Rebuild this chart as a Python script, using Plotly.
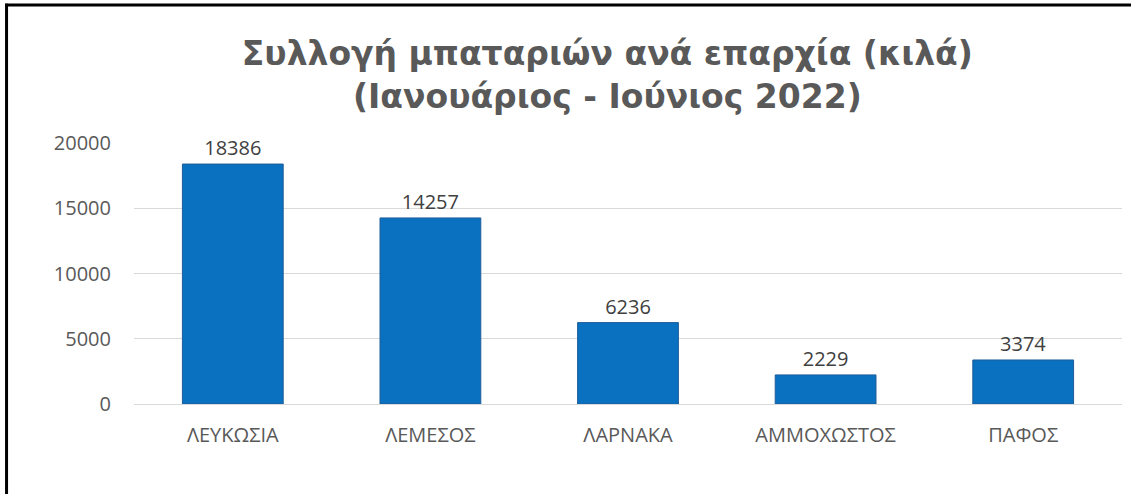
import plotly.graph_objects as go

categories = ["ΛΕΥΚΩΣΙΑ", "ΛΕΜΕΣΟΣ", "ΛΑΡΝΑΚΑ", "ΑΜΜΟΧΩΣΤΟΣ", "ΠΑΦΟΣ"]
values = [18386, 14257, 6236, 2229, 3374]
tick_values = [0, 5000, 10000, 15000, 20000]
tick_labels = ["0", "5000", "10000", "15000", "20000"]
title_text = "Συλλογή μπαταριών ανά επαρχία (κιλά)<br>(Ιανουάριος - Ιούνιος 2022)"

fig = go.Figure()
fig.add_trace(go.Bar(
    x=categories, y=values,
    marker=dict(color="#0a70c0", line=dict(color="#1d5e98", width=1)),
    text=[str(v) for v in values], textposition="outside",
    textfont=dict(family="Open Sans", size=20, color="#404040"),
    cliponaxis=False,
))

fig.update_layout(
    width=1131, height=494,
    margin=dict(l=134, r=9, t=143, b=90),
    paper_bgcolor="white", plot_bgcolor="white",
    bargap=0.49,
    showlegend=False,
    title=dict(text=title_text, x=0.537, xanchor="center", y=0.869, yanchor="middle",
               font=dict(family="DejaVu Sans", size=33, color="#595959", weight="bold")),
    xaxis=dict(showgrid=False, showline=False, ticks="", ticklabelstandoff=17,
               tickfont=dict(family="Open Sans", size=20, color="#595959")),
    yaxis=dict(range=[0, 20000], tickvals=tick_values, ticktext=tick_labels,
               showgrid=True, gridcolor="#d9d9d9",
               gridwidth=1, zeroline=True, zerolinecolor="#d9d9d9", zerolinewidth=1,
               ticks="", ticklabelstandoff=22,
               tickfont=dict(family="Open Sans", size=20, color="#595959")),
    shapes=[
        dict(type="line", xref="paper", yref="paper", x0=-0.1305, x1=1.2, y0=1.5287, y1=1.5287,
             line=dict(color="black", width=3)),
        dict(type="line", xref="paper", yref="paper", x0=-0.129, x1=-0.129, y0=-0.5, y1=1.534,
             line=dict(color="black", width=3)),
    ],
)
fig.write_html("out.html", config={"displayModeBar": False},
               post_script="document.body.style.margin='0';")
